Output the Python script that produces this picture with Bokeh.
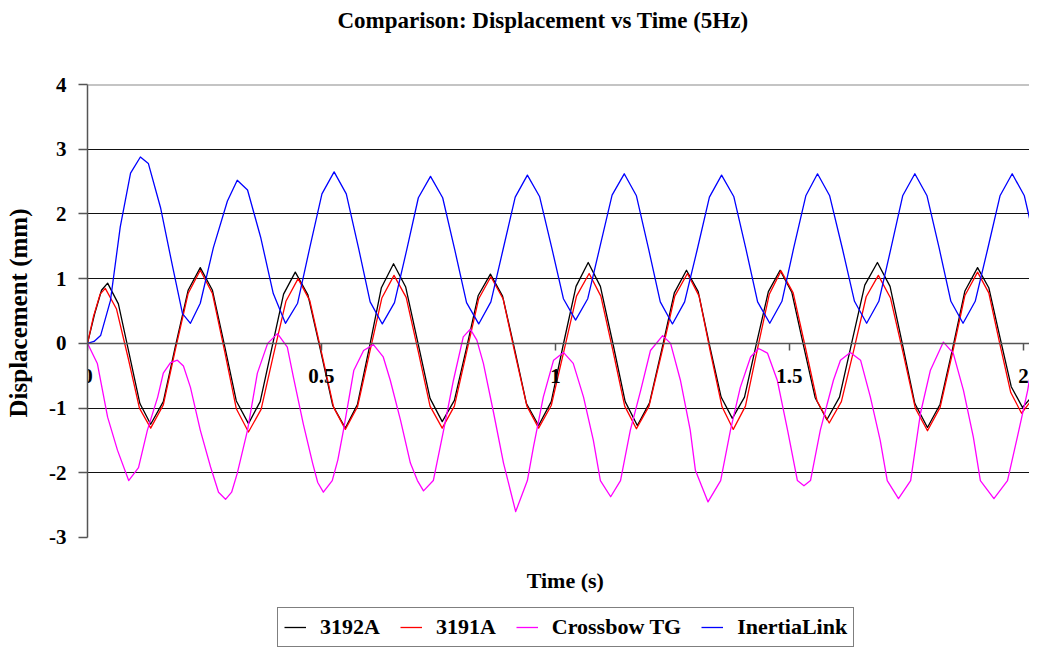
from bokeh.plotting import figure
from bokeh.models import FixedTicker, Span, Legend, LegendItem, Range1d, LinearAxis, Title, Label
from bokeh.embed import file_html
from bokeh.resources import INLINE

FONT = "Liberation Serif"

# ---------------- data ----------------
series_names = ["3192A", "3191A", "Crossbow TG", "InertiaLink"]
series_colors = ["#000000", "#FF0000", "#FF00FF", "#0000FF"]

x_3192A = [0.000, 0.015, 0.030, 0.043, 0.066, 0.089, 0.112, 0.135, 0.162, 0.188, 0.215, 0.241, 0.267, 0.293, 0.318, 0.344,
           0.369, 0.394, 0.419, 0.444, 0.471, 0.498, 0.524, 0.551, 0.577, 0.603, 0.628, 0.654, 0.680, 0.706, 0.732, 0.758,
           0.784, 0.810, 0.835, 0.861, 0.887, 0.913, 0.938, 0.964, 0.991, 1.017, 1.044, 1.070, 1.096, 1.123, 1.149, 1.175,
           1.201, 1.228, 1.254, 1.280, 1.305, 1.329, 1.354, 1.378, 1.404, 1.429, 1.455, 1.480, 1.505, 1.530, 1.555, 1.580,
           1.607, 1.634, 1.661, 1.688, 1.715, 1.742, 1.768, 1.795, 1.822, 1.849, 1.875, 1.902, 1.926, 1.950, 1.974, 1.998,
           2.015, 2.030]
y_3192A = [0.00, 0.45, 0.82, 0.93, 0.61, -0.16, -0.93, -1.25, -0.90, -0.04, 0.82, 1.17, 0.82, -0.04, -0.89, -1.24,
           -0.90, -0.07, 0.76, 1.10, 0.75, -0.11, -0.96, -1.31, -0.94, -0.04, 0.86, 1.23, 0.87, 0.01, -0.85, -1.21,
           -0.88, -0.07, 0.74, 1.07, 0.73, -0.10, -0.93, -1.27, -0.90, -0.01, 0.88, 1.25, 0.88, -0.01, -0.90, -1.27,
           -0.92, -0.07, 0.78, 1.13, 0.80, -0.02, -0.83, -1.16, -0.83, -0.02, 0.80, 1.13, 0.79, -0.03, -0.84, -1.18,
           -0.83, 0.04, 0.90, 1.25, 0.88, -0.03, -0.93, -1.30, -0.94, -0.07, 0.81, 1.17, 0.86, 0.09, -0.67, -0.99,
           -0.85, -0.50]

x_3191A = [0.000, 0.013, 0.027, 0.038, 0.062, 0.087, 0.111, 0.135, 0.162, 0.188, 0.215, 0.241, 0.267, 0.293, 0.318, 0.344,
           0.371, 0.397, 0.424, 0.450, 0.475, 0.501, 0.526, 0.551, 0.577, 0.603, 0.629, 0.655, 0.681, 0.707, 0.732, 0.758,
           0.784, 0.810, 0.836, 0.862, 0.888, 0.913, 0.939, 0.964, 0.991, 1.018, 1.045, 1.072, 1.097, 1.123, 1.148, 1.173,
           1.200, 1.228, 1.255, 1.282, 1.307, 1.331, 1.356, 1.380, 1.406, 1.431, 1.457, 1.482, 1.508, 1.534, 1.559, 1.585,
           1.611, 1.638, 1.664, 1.690, 1.716, 1.743, 1.769, 1.795, 1.822, 1.849, 1.875, 1.902, 1.926, 1.949, 1.973, 1.996,
           2.013, 2.030]
y_3191A = [0.00, 0.42, 0.76, 0.85, 0.53, -0.23, -1.00, -1.31, -0.95, -0.09, 0.77, 1.13, 0.77, -0.12, -1.01, -1.37,
           -1.02, -0.19, 0.65, 1.00, 0.66, -0.17, -0.99, -1.33, -0.98, -0.14, 0.70, 1.05, 0.71, -0.13, -0.97, -1.31,
           -0.97, -0.14, 0.69, 1.03, 0.69, -0.14, -0.97, -1.31, -0.96, -0.12, 0.73, 1.08, 0.73, -0.12, -0.97, -1.32,
           -0.97, -0.12, 0.73, 1.08, 0.73, -0.13, -0.98, -1.33, -0.97, -0.11, 0.76, 1.12, 0.78, -0.06, -0.89, -1.23,
           -0.90, -0.09, 0.72, 1.05, 0.70, -0.15, -1.00, -1.35, -0.99, -0.13, 0.74, 1.10, 0.78, 0.01, -0.76, -1.08,
           -0.92, -0.55]

x_crossbow = [0.000, 0.021, 0.043, 0.064, 0.088, 0.109, 0.128, 0.150, 0.162, 0.177,
              0.192, 0.205, 0.220, 0.241, 0.263, 0.280, 0.295, 0.308, 0.320, 0.342,
              0.363, 0.385, 0.406, 0.427, 0.440, 0.461, 0.481, 0.492, 0.504, 0.523,
              0.535, 0.547, 0.569, 0.590, 0.611, 0.632, 0.647, 0.669, 0.690, 0.705,
              0.718, 0.739, 0.761, 0.782, 0.803, 0.818, 0.832, 0.846, 0.868, 0.889,
              0.915, 0.940, 0.953, 0.974, 0.996, 1.017, 1.038, 1.060, 1.081, 1.096,
              1.118, 1.139, 1.160, 1.182, 1.203, 1.229, 1.246, 1.267, 1.288, 1.299,
              1.326, 1.353, 1.374, 1.395, 1.417, 1.434, 1.453, 1.474, 1.496, 1.517,
              1.531, 1.545, 1.566, 1.594, 1.609, 1.630, 1.652, 1.673, 1.694, 1.709,
              1.733, 1.759, 1.780, 1.801, 1.829, 1.850, 1.872, 1.893, 1.908, 1.937,
              1.966, 1.987, 2.009, 2.021, 2.030]
y_crossbow = [0.00, -0.31, -1.14, -1.65, -2.12, -1.92, -1.34, -0.83, -0.46, -0.30,
              -0.26, -0.35, -0.68, -1.34, -1.91, -2.30, -2.41, -2.30, -2.01, -1.34,
              -0.46, 0.00, 0.15, -0.06, -0.52, -1.24, -1.85, -2.15, -2.30, -2.12,
              -1.80, -1.34, -0.42, -0.11, -0.02, -0.21, -0.57, -1.19, -1.85, -2.12,
              -2.28, -2.12, -1.34, -0.57, 0.10, 0.22, 0.05, -0.31, -1.08, -1.85,
              -2.60, -2.12, -1.60, -0.83, -0.26, -0.14, -0.31, -0.83, -1.50, -2.12,
              -2.37, -2.12, -1.34, -0.73, -0.11, 0.12, 0.00, -0.57, -1.34, -1.96,
              -2.45, -2.12, -1.34, -0.68, -0.21, -0.08, -0.15, -0.57, -1.34, -2.12,
              -2.20, -2.12, -1.34, -0.57, -0.26, -0.14, -0.26, -0.83, -1.50, -2.12,
              -2.40, -2.12, -1.08, -0.42, 0.02, -0.15, -0.73, -1.45, -2.12, -2.40,
              -2.12, -1.45, -0.73, -0.21, -0.05]

x_inertia = [0.000, 0.014, 0.028, 0.049, 0.070, 0.092, 0.113, 0.130, 0.156, 0.182, 0.203, 0.220, 0.241, 0.269, 0.299, 0.320,
             0.342, 0.370, 0.397, 0.423, 0.449, 0.475, 0.501, 0.527, 0.553, 0.579, 0.604, 0.630, 0.656, 0.682, 0.707, 0.733,
             0.759, 0.785, 0.810, 0.836, 0.862, 0.888, 0.914, 0.940, 0.966, 0.992, 1.017, 1.043, 1.069, 1.095, 1.121, 1.147,
             1.173, 1.199, 1.224, 1.250, 1.276, 1.303, 1.329, 1.355, 1.381, 1.407, 1.432, 1.458, 1.484, 1.509, 1.535, 1.560,
             1.586, 1.613, 1.639, 1.665, 1.691, 1.717, 1.742, 1.768, 1.794, 1.820, 1.845, 1.871, 1.897, 1.924, 1.950, 1.976,
             2.002, 2.030]
y_inertia = [0.00, 0.03, 0.12, 0.66, 1.80, 2.63, 2.88, 2.78, 2.10, 1.18, 0.46, 0.31, 0.62, 1.48, 2.20, 2.52,
             2.37, 1.64, 0.77, 0.31, 0.62, 1.48, 2.31, 2.65, 2.31, 1.48, 0.64, 0.30, 0.63, 1.44, 2.25, 2.58,
             2.25, 1.44, 0.63, 0.30, 0.64, 1.45, 2.26, 2.60, 2.27, 1.48, 0.69, 0.36, 0.69, 1.49, 2.29, 2.62,
             2.28, 1.46, 0.64, 0.30, 0.64, 1.45, 2.26, 2.60, 2.27, 1.46, 0.64, 0.31, 0.65, 1.47, 2.28, 2.62,
             2.28, 1.47, 0.65, 0.31, 0.65, 1.47, 2.28, 2.62, 2.28, 1.47, 0.65, 0.31, 0.65, 1.47, 2.28, 2.62,
             2.28, 1.40]

x_ticks = [0, 0.5, 1, 1.5, 2]
x_tick_labels = ["0", "0.5", "1", "1.5", "2"]
y_ticks = [-3, -2, -1, 0, 1, 2, 3, 4]
y_tick_labels = ["-3", "-2", "-1", "0", "1", "2", "3", "4"]
grid_values = [-2, -1, 1, 2, 3]
x_min, x_max = 0, 2.013
y_min, y_max = -3, 4

# ---------------- figure ----------------
PX_PER_Y = 64.714                     # plot-area scale (pixels per mm)
FRAME_H = 565                         # plot area extends down to hold the x title and legend
y_lo = y_max - FRAME_H / PX_PER_Y     # lower end of the drawing area (below -3)

p = figure(frame_width=942, frame_height=FRAME_H, output_backend="svg", toolbar_location=None,
           x_range=Range1d(x_min, x_max), y_range=Range1d(y_lo, y_max),
           x_axis_location=None, y_axis_location="left",
           min_border_left=87, min_border_right=0, min_border_top=84, min_border_bottom=0)
p.outline_line_color = None
p.background_fill_color = "white"
p.border_fill_color = "white"

# spacer between the plot area and the title (the title is stacked outermost)
p.add_layout(Title(text=" ", text_font_size="2px", standoff=48), "above")

p.title.text = "Comparison: Displacement vs Time (5Hz)"
p.title.align = "left"
p.title.offset = 250
p.title.vertical_align = "bottom"
p.title.standoff = 0
p.title.text_font = FONT
p.title.text_font_style = "bold"
p.title.text_font_size = "23px"
p.title.text_color = "black"

# y axis (drawn only over -3..4)
ax = p.yaxis[0]
ax.bounds = (y_min, y_max)
ax.ticker = FixedTicker(ticks=y_ticks)
ax.major_label_overrides = {t: l for t, l in zip(y_ticks, y_tick_labels)}
ax.major_tick_out = 9
ax.major_tick_in = 0
ax.minor_tick_out = 0
ax.minor_tick_in = 0
ax.axis_line_color = "#555555"
ax.axis_line_width = 1.5
ax.major_tick_line_color = "#555555"
ax.major_tick_line_width = 1.5
ax.major_label_text_font = FONT
ax.major_label_text_font_style = "bold"
ax.major_label_text_font_size = "21px"
ax.major_label_text_color = "black"
ax.major_label_standoff = 12

# y axis title, placed beside -3..4 (spacer, then title)
p.add_layout(Title(text=" ", text_font_size="2px", standoff=11), "left")
p.add_layout(Title(text="Displacement (mm)", align="left", offset=232, vertical_align="bottom", standoff=0,
                   text_font=FONT, text_font_style="bold", text_font_size="25px", text_color="black"), "left")

# x axis crossing at y = 0
xax = LinearAxis(fixed_location=0, ticker=FixedTicker(ticks=x_ticks),
                 major_label_overrides={t: l for t, l in zip(x_ticks, x_tick_labels)})
xax.axis_line_color = "#555555"
xax.axis_line_width = 1.5
xax.major_tick_line_color = "#555555"
xax.major_tick_line_width = 1.5
xax.major_tick_out = 7
xax.major_tick_in = 0
xax.minor_tick_out = 0
xax.minor_tick_in = 0
xax.major_label_text_font = FONT
xax.major_label_text_font_style = "bold"
xax.major_label_text_font_size = "21px"
xax.major_label_text_color = "black"
xax.major_label_standoff = 19
p.add_layout(xax, "below")

p.ygrid.ticker = FixedTicker(ticks=grid_values)
p.ygrid.grid_line_color = "#111111"
p.ygrid.grid_line_width = 1
p.xgrid.visible = False

# top border of the plot area
p.add_layout(Span(location=y_max, dimension="width", line_color="#8a8a8a", line_width=2))

# x axis title
p.add_layout(Label(x=1.021, y=y_min - 237 / PX_PER_Y + 3, text="Time (s)", text_align="center",
                   text_baseline="middle", text_font=FONT, text_font_style="bold",
                   text_font_size="22px", text_color="black"))

# series
renderers = []
for xs, ys, c in [(x_3192A, y_3192A, series_colors[0]), (x_3191A, y_3191A, series_colors[1]),
                  (x_crossbow, y_crossbow, series_colors[2]), (x_inertia, y_inertia, series_colors[3])]:
    renderers.append(p.line(xs, ys, line_color=c, line_width=1.3, line_join="round"))

legend = Legend(items=[LegendItem(label=n, renderers=[r]) for n, r in zip(series_names, renderers)],
                orientation="horizontal", location=(190, 2))
legend.label_text_font = FONT
legend.label_text_font_style = "bold"
legend.label_text_font_size = "22px"
legend.label_text_color = "black"
legend.border_line_color = "black"
legend.border_line_width = 1
legend.background_fill_color = "white"
legend.glyph_width = 22
legend.label_standoff = 14
legend.spacing = 20
legend.padding = 6
legend.margin = 0
p.add_layout(legend, "center")

open("out.html", "w").write(file_html(p, INLINE))
